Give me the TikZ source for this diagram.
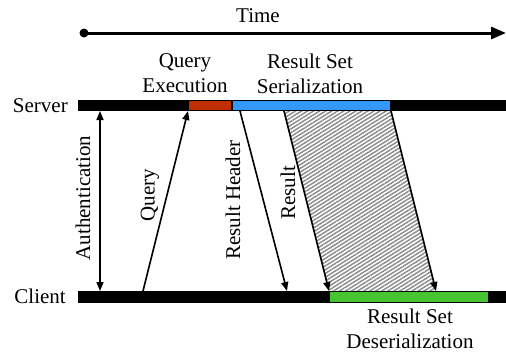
\documentclass[tikz,border=0pt]{standalone}
\usepackage{fontspec}
\setmainfont{Liberation Serif}
\usetikzlibrary{arrows.meta,patterns.meta}
\definecolor{qred}{RGB}{192,46,0}
\definecolor{sblue}{RGB}{51,153,255}
\definecolor{dgreen}{RGB}{70,196,50}
\begin{document}
\begin{tikzpicture}[x=1pt,y=-1pt,
  lbl/.style={font=\fontsize{21}{25}\selectfont,inner sep=0pt},
  vlbl/.style={lbl,rotate=90},
  msg/.style={line width=1.6pt,-{Triangle[length=9pt,width=7pt]}},
  bar/.style={fill=black,draw=none},
]
\useasboundingbox (0,0) rectangle (506,356);
% time axis
\coordinate (t0) at (84,33);
\coordinate (t1) at (506,33);
\fill (t0) circle (4.5);
\draw[line width=3pt,-{Triangle[length=15pt,width=12pt]}] (t0) -- (t1);
\node[lbl,anchor=base] (time) at (258,23) {Time};
% bars
\fill[bar] (78,100) rectangle (506,111);
\fill[bar] (78,291) rectangle (506,303);
\fill[qred] (189,101) rectangle (231,110);
\fill[sblue] (233,101) rectangle (390,110);
\fill[dgreen] (330,292) rectangle (488,302);
% labels
\node[lbl,anchor=base east] (server) at (68,112) {Server};
\node[lbl,anchor=base east] (client) at (66,303) {Client};
\node[lbl,align=center] (qe) at (185,73.5) {Query\\Execution};
\node[lbl,align=center] (rss) at (310,73.5) {Result Set\\Serialization};
\node[lbl,align=center] (rsd) at (410,328.5) {Result Set\\Deserialization};
% coordinates
\coordinate (a1) at (100,111);
\coordinate (a2) at (100,291);
\coordinate (q1) at (143,291);
\coordinate (q2) at (188,111);
\coordinate (h1) at (240,111);
\coordinate (h2) at (287,291);
\coordinate (r1) at (284,111);
\coordinate (r2) at (329,291);
\coordinate (s1) at (391,111);
\coordinate (s2) at (436,291);
% hatched result area
\fill[pattern={Lines[angle=32,distance=3.2pt,line width=1.5pt]},pattern color=black!45]
  (r1) -- (s1) -- (s2) -- (r2) -- cycle;
% arrows
\draw[line width=1.6pt,{Triangle[length=9pt,width=7pt]}-{Triangle[length=9pt,width=7pt]}] (a1) -- (a2);
\draw[msg] (q1) -- (q2);
\draw[msg] (h1) -- (h2);
\draw[msg] (r1) -- (r2);
\draw[msg] (s1) -- (s2);
% rotated labels
\node[vlbl] (auth) at (83,198) {Authentication};
\node[vlbl] (ql) at (150,195) {Query};
\node[vlbl] (rh) at (233,200) {Result Header};
\node[vlbl] (rl) at (288,193) {Result};
\end{tikzpicture}
\end{document}
